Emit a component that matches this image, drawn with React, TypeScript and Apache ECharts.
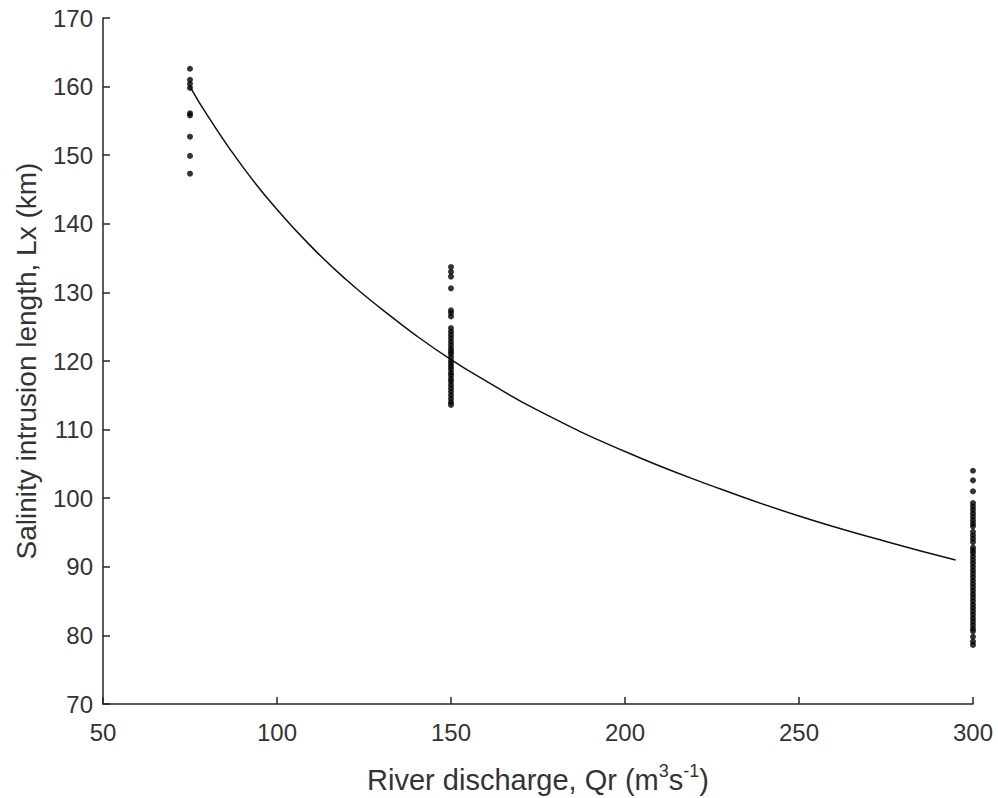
import React, { useEffect, useRef } from "react";
import * as echarts from "echarts";

const xTicks = [50, 100, 150, 200, 250, 300];
const yTicks = [70, 80, 90, 100, 110, 120, 130, 140, 150, 160, 170];

const q75 = [162.6, 161.0, 160.4, 159.8, 156.1, 155.8, 152.7, 149.9, 147.3];
const q150 = [
  133.7, 133.0, 132.3, 130.6, 127.4, 127.0, 126.5, 124.8, 124.3, 123.8, 123.3,
  122.8, 122.3, 121.8, 121.4, 121.0, 120.5, 120.0, 119.6, 119.2, 118.8, 118.3,
  117.9, 117.4, 117.0, 116.5, 116.0, 115.5, 115.0, 114.5, 114.0, 113.6,
];
const q300 = [
  104.0, 102.6, 101.0, 99.3, 98.8, 98.3, 97.8, 97.3, 96.8, 96.3, 95.9, 95.1,
  94.6, 94.1, 93.6, 92.8, 92.4, 92.0, 91.5, 91.0, 90.5, 90.0, 89.5, 89.0, 88.5,
  88.0, 87.5, 87.0, 86.5, 86.0, 85.5, 85.0, 84.5, 84.0, 83.5, 83.0, 82.5, 82.0,
  81.5, 81.0, 80.6, 79.8, 79.1, 78.6,
];

const curveQ = [75, 80, 90, 100, 110, 120, 130, 140, 150, 160, 175, 200, 225, 250, 275, 295];
const curveL = [160.0, 155.8, 148.4, 142.1, 136.6, 131.8, 127.6, 123.7, 120.2, 117.1, 112.8, 106.8, 101.8, 97.4, 93.7, 91.0];

const FONT = "'Liberation Sans', Arial, Helvetica, sans-serif";
const TXT = "#333333";

export default function App() {
  const ref = useRef<HTMLDivElement>(null);
  useEffect(() => {
    if (!ref.current) return;
    const chart = echarts.init(ref.current, null, { renderer: "svg" });
    const scatter = [
      ...q75.map((v) => [75, v]),
      ...q150.map((v) => [150, v]),
      ...q300.map((v) => [300, v]),
    ];
    chart.setOption({
      animation: false,
      backgroundColor: "#ffffff",
      grid: { left: 103, right: 25, top: 18, bottom: 94, outerBoundsMode: "none" },
      xAxis: {
        type: "value",
        min: xTicks[0],
        max: xTicks[xTicks.length - 1],
        interval: 50,
        name: "River discharge, Qr (m{sup|3}s{sup|-1})",
        nameLocation: "middle",
        nameGap: 58,
        nameTextStyle: {
          color: TXT,
          fontFamily: FONT,
          fontSize: 29,
          lineHeight: 35,
          rich: {
            sup: { fontSize: 18, lineHeight: 16, verticalAlign: "top", color: TXT, fontFamily: FONT },
          },
        },
        axisLine: { show: true, lineStyle: { color: "#262626", width: 1.5 } },
        axisTick: { show: true, inside: true, length: 7, lineStyle: { color: "#262626", width: 1.5 } },
        axisLabel: { color: TXT, fontFamily: FONT, fontSize: 24, margin: 16 },
        splitLine: { show: false },
      },
      yAxis: {
        type: "value",
        min: yTicks[0],
        max: yTicks[yTicks.length - 1],
        interval: 10,
        name: "Salinity intrusion length, Lx (km)",
        nameLocation: "middle",
        nameGap: 63,
        nameTextStyle: { color: TXT, fontFamily: FONT, fontSize: 28 },
        axisLine: { show: true, lineStyle: { color: "#262626", width: 1.5 } },
        axisTick: { show: true, inside: true, length: 7, lineStyle: { color: "#262626", width: 1.5 } },
        axisLabel: { color: TXT, fontFamily: FONT, fontSize: 24, margin: 10 },
        splitLine: { show: false },
      },
      series: [
        {
          type: "line",
          data: curveQ.map((q, i) => [q, curveL[i]]),
          smooth: true,
          showSymbol: false,
          lineStyle: { color: "#111111", width: 1.5 },
          z: 2,
        },
        {
          type: "scatter",
          data: scatter,
          symbol: "circle",
          symbolSize: 6,
          itemStyle: { color: "#000000" },
          z: 3,
        },
      ],
    });
    return () => chart.dispose();
  }, []);
  return (
    <div
      ref={ref}
      style={{ position: "fixed", left: 0, top: 0, width: 998, height: 798, background: "#fff" }}
    />
  );
}
